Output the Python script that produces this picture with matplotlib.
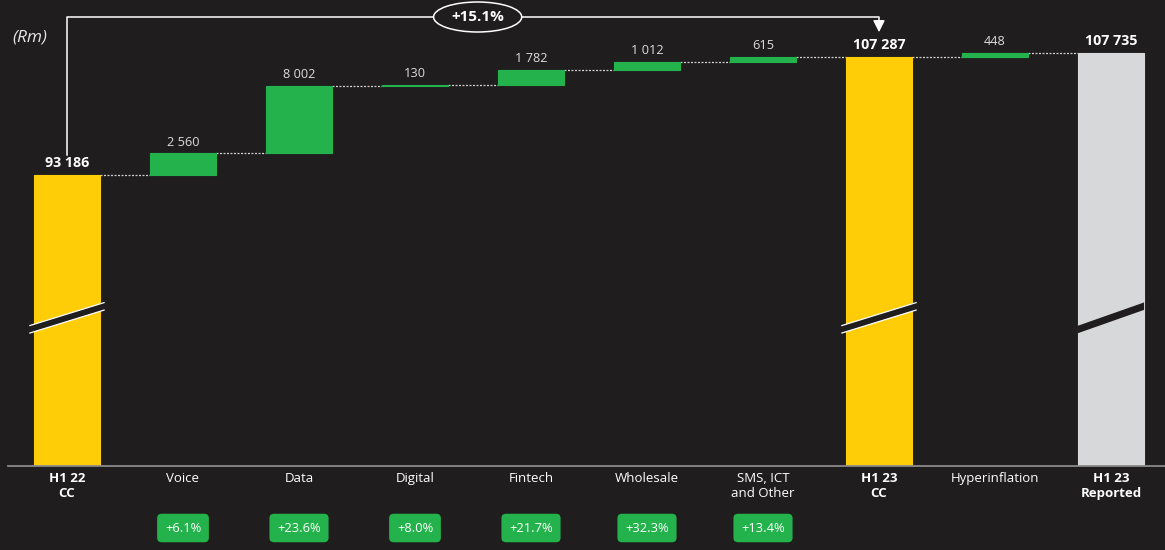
import matplotlib
matplotlib.use("Agg")
import matplotlib.pyplot as plt
from matplotlib.patches import Ellipse, Polygon
from matplotlib.transforms import blended_transform_factory

# data (Rm)
categories = ["H1 22\nCC", "Voice", "Data", "Digital", "Fintech", "Wholesale",
              "SMS, ICT\nand Other", "H1 23\nCC", "Hyperinflation", "H1 23\nReported"]
values = [93186, 2560, 8002, 130, 1782, 1012, 615, 107287, 448, 107735]
is_total = [True, False, False, False, False, False, False, True, False, True]
value_labels = ["93 186", "2 560", "8 002", "130", "1 782", "1 012", "615",
                "107 287", "448", "107 735"]
growth = ["", "+6.1%", "+23.6%", "+8.0%", "+21.7%", "+32.3%", "+13.4%", "", "", ""]
overall_growth = "+15.1%"

BG = "#1f1d1e"
YELLOW = "#ffcc08"
GREEN = "#23b24b"
GREY = "#d7d8da"
total_colors = {0: YELLOW, 7: YELLOW, 9: GREY}

plt.rcParams["font.family"] = ["Open Sans", "DejaVu Sans"]

fig = plt.figure(figsize=(11.65, 5.5), dpi=100, facecolor=BG)
ax = fig.add_axes([8 / 1165, 84 / 550, 1 - 8 / 1165, 466 / 550])
ax.set_facecolor(BG)
trans = blended_transform_factory(ax.transData, ax.transAxes)

w = 0.57
x = list(range(len(values)))
bottoms, heights, tops = [], [], []
running = 0
for i, v in enumerate(values):
    if is_total[i]:
        bottoms.append(0)
        heights.append(v)
        running = v
    else:
        bottoms.append(running)
        heights.append(v)
        running += v
    tops.append(running)

colors = [total_colors[i] if is_total[i] else GREEN for i in x]
ax.bar(x, heights, bottom=bottoms, width=w, color=colors, edgecolor=colors,
       linewidth=0.8, zorder=2)

# connectors
for i in range(len(values) - 1):
    ax.plot([i + w / 2, i + 1 - w / 2], [tops[i], tops[i]], color="#d0d0d0",
            lw=0.9, ls=(0, (1.6, 1.2)), zorder=1)

# value labels
for i in x:
    ax.annotate(value_labels[i], (i, tops[i]), xytext=(0, 3.5), textcoords="offset points",
                ha="center", va="bottom", color="white" if is_total[i] else "#dcdcdc",
                fontsize=10.3 if is_total[i] else 9.2,
                fontweight="bold" if is_total[i] else "normal")

# axis break marks on total bars
for i in x:
    if not is_total[i]:
        continue
    ext = 0.04 if i != 9 else 0.0
    x0, x1 = i - w / 2 - ext, i + w / 2 + ext
    y0, y1, t = 0.285, 0.335, 0.016
    ax.add_patch(Polygon([(x0, y0), (x1, y1), (x1, y1 + t), (x0, y0 + t)], closed=True,
                         transform=trans, facecolor=BG, edgecolor="none", zorder=3))
    if i != 9:
        for off in (0, t):
            ax.plot([x0, x1], [y0 + off, y1 + off], color="white", lw=0.9,
                    transform=trans, zorder=4, solid_capstyle="butt")

# overall growth bracket
top_y = 1 - 17 / 466
ax.plot([0, 0, 7, 7], [1 - 155 / 466, top_y, top_y, 1 - 26 / 466], color="white",
        lw=1.1, transform=trans, zorder=4)
ax.annotate("", xy=(7, 1 - 35 / 466), xytext=(7, 1 - 24 / 466), xycoords=trans,
            textcoords=trans,
            arrowprops=dict(arrowstyle="-|>,head_width=0.35,head_length=0.7",
                            color="white", lw=1.1))
ell = Ellipse((3.54, top_y), 0.76, 30 / 466, transform=trans, facecolor=BG,
              edgecolor="white", lw=1.1, zorder=5)
ax.add_patch(ell)
ax.text(3.54, top_y, overall_growth, transform=trans, ha="center", va="center",
        color="white", fontsize=11, fontweight="bold", zorder=6)

ax.text(-0.47, 1 - 38 / 466, "(Rm)", transform=trans, ha="left", va="center",
        color="#e6e6e6", fontsize=12.5, style="italic")

# growth badges
for i in x:
    if growth[i]:
        ax.text(i, 1 - 528 / 466, growth[i], transform=trans, ha="center", va="center",
                color="white", fontsize=9.3, clip_on=False,
                bbox=dict(boxstyle="round,pad=0.6,rounding_size=0.35",
                          facecolor=GREEN, edgecolor="none"))

ax.set_xlim(-(67 - 8) / 116, (1165 - 67) / 116)
ax.set_ylim(58540, 114020)
ax.set_xticks(x)
ax.set_xticklabels(categories, color="white", fontsize=9.5, linespacing=1.2)
for lbl, tot in zip(ax.get_xticklabels(), is_total):
    if tot:
        lbl.set_fontweight("bold")
ax.tick_params(axis="x", length=0, pad=4)
ax.set_yticks([])
for s in ["top", "left", "right"]:
    ax.spines[s].set_visible(False)
ax.spines["bottom"].set_color("#8a8a8a")
ax.spines["bottom"].set_linewidth(1.3)
ax.spines["bottom"].set_zorder(3)

fig.savefig("out.png", dpi=100, facecolor=BG)
